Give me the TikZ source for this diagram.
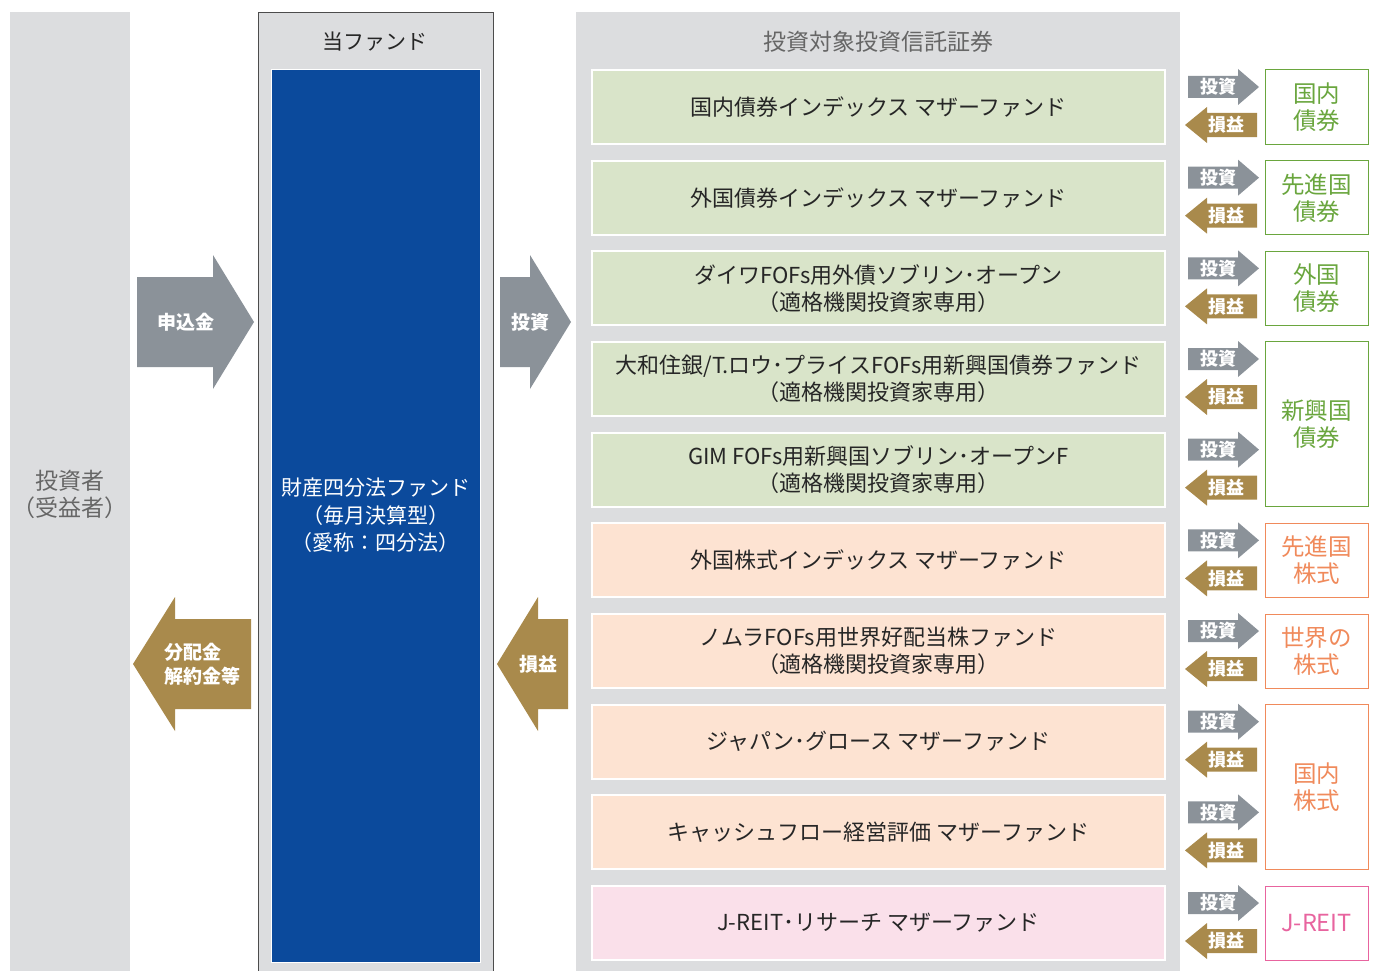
\documentclass[tikz,border=0pt]{standalone}
\usepackage{fontspec}
\setmainfont{Noto Sans CJK JP}
\definecolor{panelgray}{HTML}{DCDDDF}
\definecolor{fundblue}{HTML}{0B4A9C}
\definecolor{arrowgray}{HTML}{8B9299}
\definecolor{arrowgold}{HTML}{A98A4C}
\definecolor{bondfill}{HTML}{D9E4C9}
\definecolor{stockfill}{HTML}{FDE3D2}
\definecolor{reitfill}{HTML}{FAE0EA}
\definecolor{bondtext}{HTML}{6AA63E}
\definecolor{stocktext}{HTML}{F08A5B}
\definecolor{reittext}{HTML}{E8649F}
\tikzset{
  fundbox/.style={minimum width=573pt, minimum height=74pt, align=center,
    draw=white, fill=#1, line width=2pt, font=\fontsize{22}{27}\selectfont, text=black!85},
  catbox/.style={minimum width=103pt, align=center, draw=#1, fill=white, line width=1pt,
    text=#1, font=\fontsize{23.5}{27}\selectfont},
  bigtext/.style={text=white, font=\bfseries\fontsize{19}{24}\selectfont, align=left},
  smalltext/.style={text=white, font=\bfseries\fontsize{18}{20}\selectfont}
}
\begin{document}
\begin{tikzpicture}[x=1pt,y=-1pt]
\useasboundingbox (0,0) rectangle (1375,971);
% columns
\fill[panelgray] (10,12) rectangle (130,971);
\draw[fill=panelgray, draw=black!70, line width=0.8pt] (258,12) rectangle (493,975);
\fill[panelgray] (576,12) rectangle (1180,971);
\node[text=black!60, font=\fontsize{23}{27}\selectfont, align=center] (investor) at (70,494) {投資者\\（受益者）};
\node[font=\fontsize{21}{26}\selectfont, text=black!85] (thisfund) at (375,42) {当ファンド};
\node[text=black!60, font=\fontsize{23}{27}\selectfont] (targets) at (878,42) {投資対象投資信託証券};
\node[fill=fundblue, draw=white, line width=0.8pt, minimum width=209pt, minimum height=893pt,
  text=white, align=center, font=\fontsize{21}{27.5}\selectfont] (main) at (375.5,515.5)
  {財産四分法ファンド\\（毎月決算型）\\（愛称：四分法）};
% big arrows
\fill[arrowgray] (137,277) -- (213,277) -- (213,255) -- (254,322) -- (213,389) -- (213,367) -- (137,367) -- cycle;
\node[bigtext] (buy) at (186,322) {申込金};
\fill[arrowgold] (251,619) -- (175,619) -- (175,597) -- (133,664) -- (175,731) -- (175,709) -- (251,709) -- cycle;
\node[bigtext] (payout) at (202,664) {分配金\\解約金等};
\fill[arrowgray] (500,277) -- (530,277) -- (530,255) -- (571,322) -- (530,389) -- (530,367) -- (500,367) -- cycle;
\node[bigtext] (invest) at (530,322) {投資};
\fill[arrowgold] (568,619) -- (538,619) -- (538,597) -- (497,664) -- (538,731) -- (538,709) -- (568,709) -- cycle;
\node[bigtext] (gain) at (538,664) {損益};
% funds
\foreach \i/\col/\txt in {
  0/bondfill/{国内債券インデックス マザーファンド},
  1/bondfill/{外国債券インデックス マザーファンド},
  2/bondfill/{ダイワFOFs用外債ソブリン･オープン\\（適格機関投資家専用）},
  3/bondfill/{大和住銀/T.ロウ･プライスFOFs用新興国債券ファンド\\（適格機関投資家専用）},
  4/bondfill/{GIM FOFs用新興国ソブリン･オープンF\\（適格機関投資家専用）},
  5/stockfill/{外国株式インデックス マザーファンド},
  6/stockfill/{ノムラFOFs用世界好配当株ファンド\\（適格機関投資家専用）},
  7/stockfill/{ジャパン･グロース マザーファンド},
  8/stockfill/{キャッシュフロー経営評価 マザーファンド},
  9/reitfill/{J-REIT･リサーチ マザーファンド}}{
  \pgfmathsetmacro{\top}{70+90.67*\i}
  \node[fundbox=\col] (fund\i) at (878.5,\top+37) {\txt};
  % small arrows
  \fill[arrowgray] (1188,\top+6) -- (1238,\top+6) -- (1238,\top-1) -- (1259,\top+17) -- (1238,\top+35) -- (1238,\top+28) -- (1188,\top+28) -- cycle;
  \node[smalltext] (in\i) at (1218,\top+17) {投資};
  \fill[arrowgold] (1257,\top+43) -- (1207,\top+43) -- (1207,\top+37) -- (1185,\top+55) -- (1207,\top+73) -- (1207,\top+67) -- (1257,\top+67) -- cycle;
  \node[smalltext] (out\i) at (1226,\top+55) {損益};
}
% categories
\node[catbox=bondtext, minimum height=74pt] (cat0) at (1316.5,107) {国内\\債券};
\node[catbox=bondtext, minimum height=74pt] (cat1) at (1316.5,197.7) {先進国\\債券};
\node[catbox=bondtext, minimum height=74pt] (cat2) at (1316.5,288.3) {外国\\債券};
\node[catbox=bondtext, minimum height=165pt] (cat3) at (1316.5,424.3) {新興国\\債券};
\node[catbox=stocktext, minimum height=74pt] (cat5) at (1316.5,560.3) {先進国\\株式};
\node[catbox=stocktext, minimum height=74pt] (cat6) at (1316.5,651) {世界の\\株式};
\node[catbox=stocktext, minimum height=165pt] (cat7) at (1316.5,787) {国内\\株式};
\node[catbox=reittext, minimum height=74pt] (cat9) at (1316.5,923) {J-REIT};
\end{tikzpicture}
\end{document}
